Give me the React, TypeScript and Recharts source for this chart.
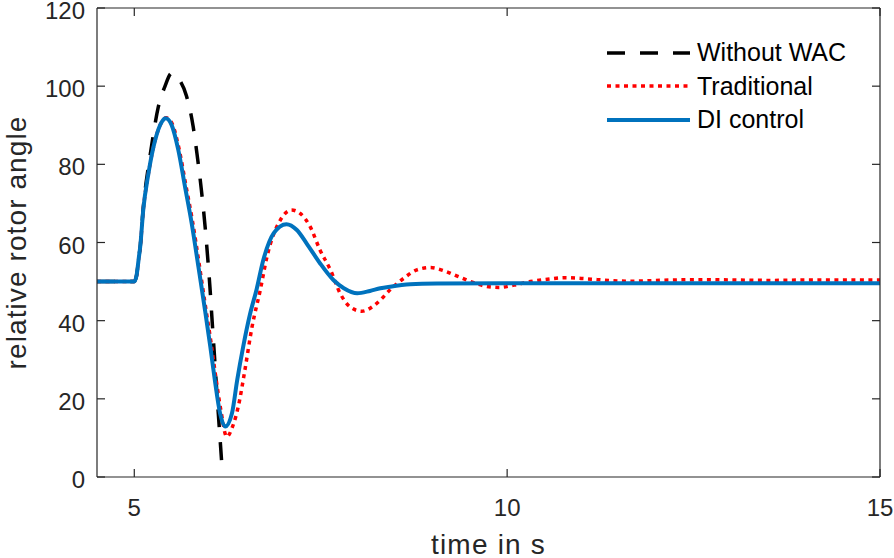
import { Label, Legend, Line, LineChart, XAxis, YAxis } from "recharts";

// time (s) and relative rotor angle
const noWacTime = [4.5, 5.0, 5.03, 5.06, 5.08, 5.12, 5.19, 5.23, 5.32, 5.41, 5.5, 5.6, 5.7, 5.79, 5.84, 5.9, 5.95, 5.987, 6.014, 6.046, 6.076, 6.108, 6.139, 6.174];
const noWacAngle = [50, 50, 51.5, 56, 59, 68.8, 79.5, 84.5, 94.5, 99.9, 103.3, 101.8, 97.5, 89.6, 82.8, 73.4, 64, 55.5, 48.7, 39.3, 30.8, 21.4, 12.9, 3.2];

const tradTime = [4.5, 5.0, 5.03, 5.06, 5.08, 5.12, 5.19, 5.28, 5.37, 5.43, 5.51, 5.6, 5.69, 5.78, 5.87, 5.96, 6.03, 6.09, 6.16, 6.24, 6.32, 6.4, 6.48, 6.58, 6.69, 6.78, 6.96, 7.11, 7.22, 7.36, 7.49, 7.63, 7.76, 7.89, 8.05, 8.21, 8.3, 8.43, 8.61, 8.79, 8.97, 9.15, 9.33, 9.51, 9.69, 9.89, 10.09, 10.31, 10.54, 10.77, 10.99, 11.21, 11.43, 11.65, 11.88, 12.19, 12.64, 13.08, 13.53, 14, 14.5, 15];
const tradAngle = [50, 50, 51.5, 56, 59, 68.3, 77.7, 86.2, 90.9, 91.9, 90.3, 84, 74.8, 65.5, 54.5, 43, 34.3, 26, 17.2, 10.3, 13, 18.5, 27, 38.5, 47.9, 56.4, 65.8, 68.3, 67.5, 64, 58.1, 53, 47, 43.6, 42.4, 43.8, 45.3, 47.9, 50.8, 53, 53.6, 52.8, 51.4, 50, 48.9, 48.5, 49.1, 50, 50.6, 51, 50.8, 50.5, 50.2, 50.1, 50.2, 50.4, 50.5, 50.4, 50.3, 50.4, 50.4, 50.4];

const diTime = [4.5, 5.0, 5.03, 5.06, 5.08, 5.12, 5.19, 5.28, 5.37, 5.42, 5.5, 5.59, 5.68, 5.77, 5.86, 5.95, 6.02, 6.08, 6.15, 6.22, 6.31, 6.38, 6.46, 6.55, 6.64, 6.73, 6.87, 7.04, 7.18, 7.31, 7.49, 7.67, 7.81, 7.99, 8.16, 8.3, 8.43, 8.7, 9.06, 10, 12, 15];
const diAngle = [50, 50, 51.5, 56, 59, 68.3, 77.7, 86.2, 90.9, 91.8, 90.1, 83.7, 74.3, 64.9, 53.8, 42.5, 33.3, 24.8, 16.3, 12.9, 16.3, 24.8, 33.3, 41.5, 48, 55.5, 62.4, 64.7, 63.2, 59.8, 54.7, 50.4, 48.3, 47, 47.6, 48.3, 48.7, 49.3, 49.5, 49.6, 49.6, 49.6];

const xTicks = [5, 10, 15];
const yTicks = [0, 20, 40, 60, 80, 100, 120];

const legendNames = ["Without WAC", "Traditional", "DI control"];

const rows = (t: number[], v: number[]) => t.map((x, i) => ({ t: x, v: v[i] }));

const FONT = '"Liberation Sans", Arial, Helvetica, sans-serif';
const AXIS = "#262626";

const series = [
  { name: legendNames[0], data: rows(noWacTime, noWacAngle), color: "#000000", width: 3.5, dash: "18 15" },
  { name: legendNames[1], data: rows(tradTime, tradAngle), color: "#ff0000", width: 3.5, dash: "4 4.5" },
  { name: legendNames[2], data: rows(diTime, diAngle), color: "#0072bd", width: 4, dash: undefined },
];

function renderLegend() {
  return (
    <div style={{ fontFamily: FONT, fontSize: 25, color: "#000" }}>
      {series.map((s) => (
        <div key={s.name} style={{ display: "flex", alignItems: "center", height: 33.5 }}>
          <svg width={90} height={10}>
            <line x1={0} y1={5} x2={83} y2={5} stroke={s.color} strokeWidth={s.width} strokeDasharray={s.dash} />
          </svg>
          <span style={{ whiteSpace: "nowrap" }}>{s.name}</span>
        </div>
      ))}
    </div>
  );
}

export default function App() {
  return (
    <div style={{ position: "fixed", left: 0, top: 0, width: 894, height: 558, background: "#fff" }}>
      <LineChart width={894} height={558} margin={{ top: 7, right: 13, bottom: 0, left: 0 }}>
        <XAxis
          xAxisId="b"
          type="number"
          dataKey="t"
          domain={[4.5, 15]}
          ticks={xTicks}
          interval={0}
          allowDataOverflow
          height={81}
          tickSize={-8}
          tickMargin={30}
          stroke={AXIS}
          strokeWidth={1.2}
          tick={{ fill: AXIS, fontSize: 24, fontFamily: FONT }}
        >
          <Label
            content={({ viewBox }: any) => (
              <text
                x={viewBox.x + viewBox.width / 2}
                y={viewBox.y + 67}
                textAnchor="middle"
                dominantBaseline="central"
                fill={AXIS}
                fontSize={28}
                letterSpacing={1.2}
                fontFamily={FONT}
              >
                time in s
              </text>
            )}
          />
        </XAxis>
        <XAxis
          xAxisId="top"
          orientation="top"
          type="number"
          dataKey="t"
          domain={[4.5, 15]}
          ticks={xTicks}
          interval={0}
          allowDataOverflow
          height={1}
          tickSize={-8}
          tick={() => <g />}
          stroke={AXIS}
          strokeWidth={1.2}
        />
        <YAxis
          yAxisId="l"
          type="number"
          domain={[0, 120]}
          ticks={yTicks}
          interval={0}
          allowDataOverflow
          width={97}
          tickSize={-8}
          tickMargin={20}
          stroke={AXIS}
          strokeWidth={1.2}
          tick={{ fill: AXIS, fontSize: 24, fontFamily: FONT, dy: 2.5 }}
        >
          <Label
            content={({ viewBox }: any) => {
              const cx = viewBox.x + 16;
              const cy = viewBox.y + viewBox.height / 2;
              return (
                <text
                  x={cx}
                  y={cy}
                  transform={`rotate(-90 ${cx} ${cy})`}
                  textAnchor="middle"
                  dominantBaseline="central"
                  fill={AXIS}
                  fontSize={28}
                  letterSpacing={1.1}
                  fontFamily={FONT}
                >
                  relative rotor angle
                </text>
              );
            }}
          />
        </YAxis>
        <YAxis
          yAxisId="r"
          orientation="right"
          type="number"
          domain={[0, 120]}
          ticks={yTicks}
          interval={0}
          allowDataOverflow
          width={1}
          tickSize={-8}
          tick={() => <g />}
          stroke={AXIS}
          strokeWidth={1.2}
        />
        {series.map((s) => (
          <Line
            key={s.name}
            xAxisId="b"
            yAxisId="l"
            data={s.data}
            dataKey="v"
            name={s.name}
            type="monotone"
            stroke={s.color}
            strokeWidth={s.width}
            strokeDasharray={s.dash}
            dot={false}
            activeDot={false}
            isAnimationActive={false}
          />
        ))}
        <Legend
          layout="vertical"
          align="center"
          verticalAlign="middle"
          content={renderLegend}
          wrapperStyle={{ left: 607, top: 36, width: 270, height: 101 }}
        />
      </LineChart>
    </div>
  );
}
